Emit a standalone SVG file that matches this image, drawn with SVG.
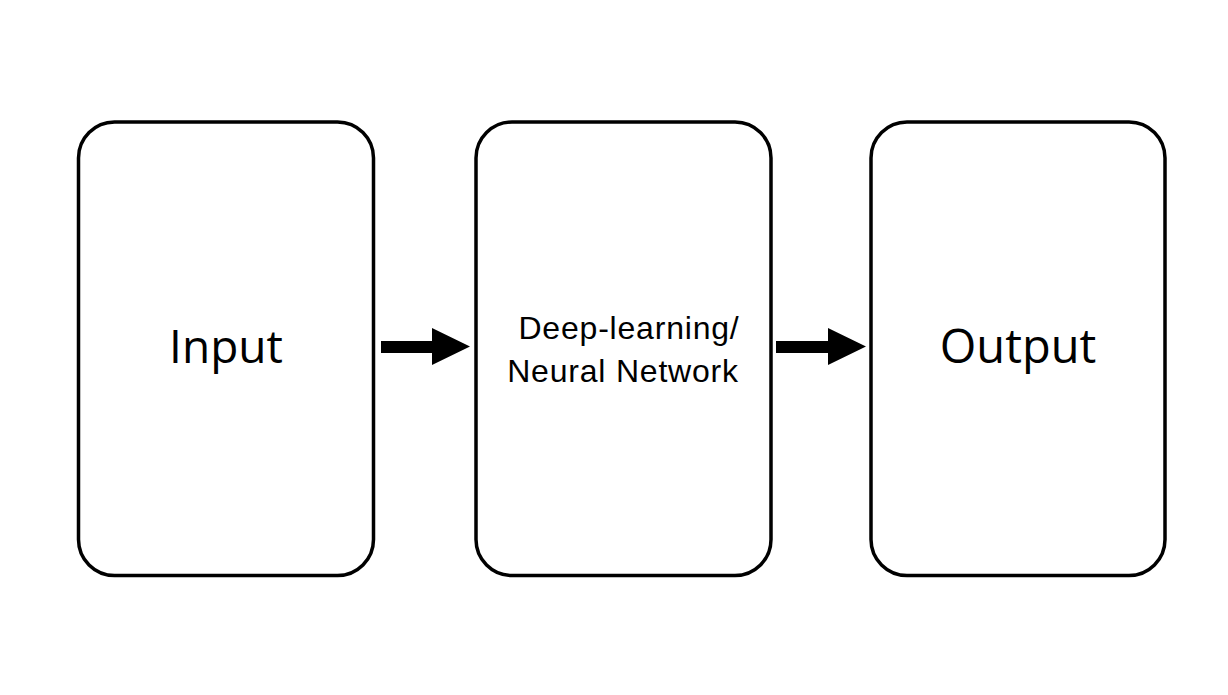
<svg xmlns="http://www.w3.org/2000/svg" width="1228" height="695" viewBox="0 0 1228 695">
<style>
.box{fill:#fff;stroke:#000;stroke-width:3.5}
.big{font-family:"Open Sans","Noto Sans",sans-serif;font-size:46px;fill:#000;text-anchor:middle}
.mid{font-family:"Liberation Sans",Arial,sans-serif;font-size:32px;fill:#000;text-anchor:middle;letter-spacing:0.8px}
.arr{fill:#000}
</style>
<rect width="1228" height="695" fill="#fff"/>
<g id="input">
<rect class="box" x="78.5" y="122" width="295" height="453.5" rx="36" ry="36"/>
<text class="big" x="226" y="363">Input</text>
</g>
<g id="network">
<rect class="box" x="476" y="122" width="295" height="453.5" rx="36" ry="36"/>
<text class="mid" x="629" y="339">Deep-learning/</text>
<text class="mid" x="623" y="382">Neural Network</text>
</g>
<g id="output">
<rect class="box" x="871" y="122" width="294" height="453.5" rx="36" ry="36"/>
<text class="big" x="1018" y="363" style="font-size:47px">Output</text>
</g>
<g id="connectors">
<polygon class="arr" points="381,341 432,341 432,328 470,346.5 432,365 432,353 381,353"/>
<polygon class="arr" points="776,341 828,341 828,328 866,346.5 828,365 828,353 776,353"/>
</g>
</svg>
